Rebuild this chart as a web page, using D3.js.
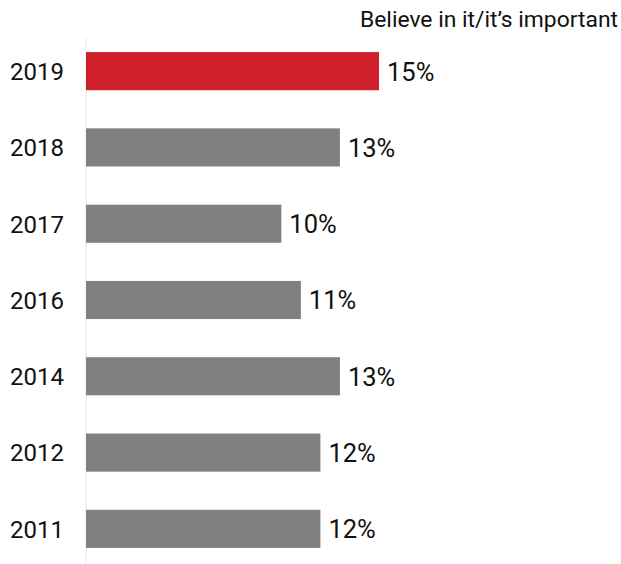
<!DOCTYPE html>
<html><head><meta charset="utf-8">
<script src="https://cdn.jsdelivr.net/npm/d3@7"></script>
<style>body{margin:0;background:#fff}</style>
</head><body>
<svg id="c" width="621" height="564"></svg>
<script>
const years = ["2019","2018","2017","2016","2014","2012","2011"];
const values = [15,13,10,11,13,12,12];
const highlight = ["2019"];
const seriesTitle = "Believe in it/it’s important";

const svg = d3.select("#c");
const font = "'Roboto', sans-serif";
const x = d3.scaleLinear().domain([0,15]).range([86,379]);
const y = d3.scaleBand().domain(years).range([52-19,548+19]).paddingInner(0.5).paddingOuter(0.25);

svg.append("line").attr("x1",86).attr("x2",86).attr("y1",38).attr("y2",564)
  .attr("stroke","#e6e6e6").attr("stroke-width",1);

svg.append("text").attr("x",618).attr("y",27).attr("text-anchor","end")
  .attr("font-family",font).attr("font-size",22.5).attr("textLength",258).attr("lengthAdjust","spacingAndGlyphs")
  .attr("fill","#111").text(seriesTitle);

const g = svg.selectAll("g.bar").data(years).join("g");
g.append("rect").attr("x",x(0)).attr("y",d=>y(d)).attr("height",y.bandwidth())
  .attr("width",(d,i)=>x(values[i])-x(0))
  .attr("fill",d=>highlight.includes(d)?"#cf202c":"#808080");
g.append("text").attr("x",(d,i)=>x(values[i])+8).attr("y",d=>y(d)+y.bandwidth()/2)
  .attr("dy","0.37em").attr("font-family",font).attr("font-size",25.5).attr("fill","#111")
  .text((d,i)=>values[i]+"%");
g.append("text").attr("x",10).attr("y",d=>y(d)+y.bandwidth()/2)
  .attr("dy","0.37em").attr("font-family",font).attr("font-size",24).attr("fill","#111")
  .text(d=>d);
</script>
</body></html>
